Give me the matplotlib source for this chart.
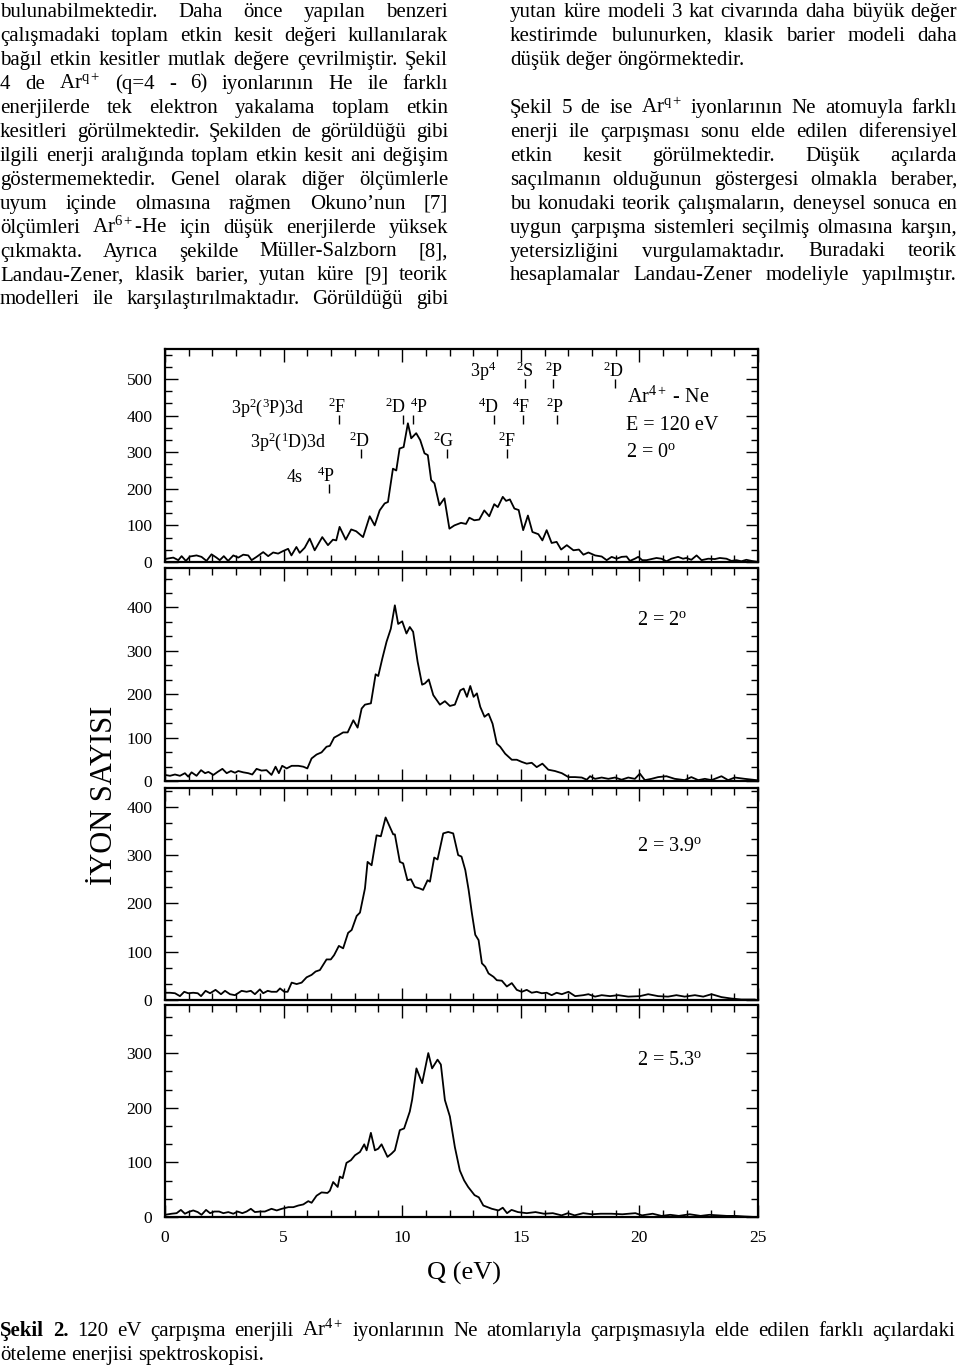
import matplotlib
matplotlib.use('Agg')
import matplotlib.pyplot as plt
from matplotlib.ticker import MultipleLocator

plt.rcParams['font.family'] = ['Liberation Serif', 'DejaVu Serif']
plt.rcParams['mathtext.fontset'] = 'custom'
plt.rcParams['mathtext.rm'] = 'Liberation Serif'
plt.rcParams['mathtext.it'] = 'Liberation Serif:italic'
plt.rcParams['mathtext.bf'] = 'Liberation Serif:bold'

W, H = 960, 1365

# --- spectra (Q in eV, ion counts) ---
q_0deg = [0.07, 0.35, 0.56, 0.70, 0.88, 1.05, 1.33, 1.54, 1.75, 1.96,
          2.17, 2.31, 2.48, 2.66, 2.88, 3.09, 3.30, 3.51, 3.65, 3.86,
          4.14, 4.35, 4.56, 4.77, 4.98, 5.19, 5.33, 5.54, 5.68, 5.89,
          6.10, 6.31, 6.63, 6.87, 7.08, 7.22, 7.36, 7.62, 7.85, 8.06,
          8.35, 8.63, 8.84, 9.05, 9.26, 9.40, 9.61, 9.75, 9.89, 10.06,
          10.24, 10.38, 10.59, 10.76, 10.94, 11.08, 11.22, 11.36, 11.57, 11.78,
          11.99, 12.20, 12.48, 12.69, 12.83, 13.04, 13.25, 13.46, 13.67, 13.88,
          14.03, 14.24, 14.38, 14.54, 14.73, 14.91, 15.10, 15.30, 15.49, 15.74,
          15.91, 16.09, 16.30, 16.51, 16.70, 16.94, 17.22, 17.45, 17.64, 17.85,
          18.13, 18.41, 18.62, 18.83, 19.04, 19.25, 19.46, 19.60, 19.81, 19.95,
          20.12, 20.30, 20.51, 20.72, 20.93, 21.14, 21.35, 21.63, 21.84, 21.98,
          22.19, 22.41, 22.62, 22.90, 23.18, 23.39, 23.67, 23.88, 24.09, 24.30,
          24.51, 24.72, 24.93]
n_0deg = [9, 12, 5, 16, 3, 15, 18, 14, 3, 21,
          12, 5, 16, 3, 18, 12, 20, 18, 5, 14,
          27, 16, 26, 23, 30, 36, 18, 41, 25, 39,
          64, 32, 68, 46, 61, 59, 96, 61, 89, 84,
          68, 125, 100, 141, 160, 164, 255, 250, 310, 314,
          379, 338, 352, 333, 297, 292, 224, 215, 155, 174,
          91, 100, 107, 104, 121, 114, 116, 141, 125, 158,
          150, 178, 167, 171, 146, 142, 87, 127, 82, 76,
          59, 87, 52, 55, 34, 46, 32, 34, 20, 26,
          18, 15, 5, 14, 9, 14, 15, 3, 9, 14,
          5, 5, 8, 11, 9, 2, 9, 14, 9, 11,
          6, 18, 5, 9, 8, 11, 9, 3, 5, 2,
          6, 3, 1]

q_2deg = [0.00, 0.21, 0.42, 0.63, 0.84, 0.98, 1.12, 1.33, 1.52, 1.69,
          1.83, 2.04, 2.22, 2.42, 2.60, 2.78, 2.95, 3.09, 3.30, 3.51,
          3.68, 3.86, 4.07, 4.28, 4.49, 4.66, 4.80, 4.94, 5.13, 5.34,
          5.62, 5.83, 6.00, 6.18, 6.39, 6.60, 6.81, 6.95, 7.13, 7.33,
          7.51, 7.70, 7.94, 8.12, 8.29, 8.43, 8.68, 8.88, 8.99, 9.16,
          9.34, 9.52, 9.69, 9.83, 10.00, 10.18, 10.32, 10.46, 10.65, 10.84,
          10.96, 11.12, 11.31, 11.59, 11.80, 12.01, 12.22, 12.45, 12.59, 12.73,
          12.87, 13.01, 13.15, 13.29, 13.47, 13.64, 13.81, 13.99, 14.13, 14.34,
          14.62, 14.83, 15.04, 15.25, 15.46, 15.67, 15.91, 16.16, 16.44, 16.73,
          17.01, 17.29, 17.57, 17.78, 17.92, 18.13, 18.41, 18.69, 18.97, 19.25,
          19.53, 19.81, 20.02, 20.23, 20.51, 20.79, 21.14, 21.49, 21.91, 22.19,
          22.48, 22.76, 23.04, 23.46, 23.74, 24.02, 24.44, 24.93]
n_2deg = [14, 12, 15, 12, 18, 10, 20, 12, 25, 18,
          21, 14, 21, 28, 18, 23, 19, 23, 20, 18,
          15, 28, 24, 25, 14, 33, 18, 35, 29, 35,
          35, 33, 29, 52, 61, 66, 79, 81, 100, 106,
          112, 112, 140, 123, 167, 176, 179, 246, 242, 282,
          321, 351, 405, 362, 368, 340, 355, 344, 275, 222,
          225, 234, 198, 176, 184, 173, 176, 209, 213, 194,
          219, 194, 202, 171, 148, 155, 132, 86, 79, 63,
          49, 49, 44, 40, 42, 32, 40, 26, 23, 18,
          9, 9, 8, 3, 11, 5, 8, 5, 8, 3,
          8, 5, 17, 2, 5, 9, 11, 5, 2, 9,
          2, 5, 2, 11, 2, 8, 5, 2]

q_39deg = [0.00, 0.21, 0.42, 0.63, 0.81, 0.98, 1.19, 1.38, 1.52, 1.71,
           1.90, 2.13, 2.36, 2.53, 2.74, 2.95, 3.23, 3.44, 3.62, 3.79,
           4.00, 4.14, 4.33, 4.49, 4.71, 4.85, 5.03, 5.17, 5.34, 5.55,
           5.76, 5.97, 6.18, 6.35, 6.53, 6.81, 6.99, 7.13, 7.33, 7.51,
           7.72, 7.87, 8.08, 8.22, 8.43, 8.54, 8.71, 8.92, 9.10, 9.30,
           9.41, 9.62, 9.69, 9.90, 10.04, 10.22, 10.37, 10.53, 10.74, 10.88,
           11.07, 11.17, 11.35, 11.49, 11.73, 11.94, 12.15, 12.36, 12.50, 12.66,
           12.80, 12.94, 13.08, 13.22, 13.36, 13.50, 13.64, 13.85, 13.99, 14.20,
           14.41, 14.62, 14.83, 15.04, 15.25, 15.46, 15.67, 15.88, 16.09, 16.30,
           16.51, 16.73, 17.01, 17.29, 17.64, 17.85, 18.13, 18.41, 18.76, 19.11,
           19.53, 20.02, 20.37, 20.79, 21.21, 21.56, 21.91, 22.34, 22.69, 23.04,
           23.46, 23.88, 24.30, 24.86]
n_39deg = [15, 15, 14, 8, 17, 14, 15, 14, 8, 19,
           14, 21, 12, 19, 12, 10, 19, 17, 19, 12,
           22, 14, 19, 17, 17, 24, 17, 17, 36, 33,
           36, 47, 52, 59, 62, 84, 84, 93, 112, 107,
           139, 145, 174, 181, 231, 286, 279, 341, 339, 378,
           366, 343, 343, 286, 283, 248, 250, 234, 231, 228,
           248, 245, 295, 291, 345, 348, 345, 300, 297, 269,
           228, 179, 135, 124, 76, 69, 55, 48, 41, 40,
           28, 35, 21, 17, 21, 15, 17, 14, 15, 10,
           15, 12, 17, 8, 10, 12, 7, 10, 8, 10,
           7, 8, 12, 8, 7, 10, 7, 10, 7, 12,
           6, 3, 1, 1]

q_53deg = [0.00, 0.28, 0.49, 0.67, 0.84, 0.98, 1.19, 1.38, 1.54, 1.73,
           1.90, 2.08, 2.28, 2.46, 2.67, 2.88, 3.06, 3.26, 3.44, 3.62,
           3.79, 4.00, 4.21, 4.49, 4.71, 4.92, 5.20, 5.41, 5.62, 5.83,
           6.04, 6.18, 6.39, 6.60, 6.85, 6.95, 7.09, 7.28, 7.37, 7.49,
           7.65, 7.84, 8.01, 8.22, 8.40, 8.50, 8.68, 8.85, 8.99, 9.13,
           9.38, 9.55, 9.69, 9.90, 10.08, 10.32, 10.42, 10.60, 10.84, 11.10,
           11.26, 11.49, 11.63, 11.80, 12.01, 12.22, 12.43, 12.61, 12.78, 13.05,
           13.23, 13.42, 13.78, 14.06, 14.24, 14.42, 14.61, 14.88, 15.25, 15.62,
           15.98, 16.35, 16.72, 16.99, 17.27, 17.63, 18.00, 18.37, 18.82, 19.28,
           19.83, 20.11, 20.56, 20.93, 21.30, 21.66, 22.12, 22.58, 22.95, 23.31,
           23.68, 24.05, 24.41, 24.87]
n_53deg = [4, 6, 7, 13, 6, 9, 12, 9, 4, 13,
           7, 10, 10, 7, 9, 6, 10, 7, 10, 15,
           9, 10, 10, 15, 12, 15, 18, 18, 21, 23,
           29, 26, 39, 45, 44, 48, 64, 55, 74, 71,
           99, 104, 113, 119, 133, 122, 154, 122, 125, 133,
           110, 116, 122, 159, 162, 193, 215, 272, 245, 300,
           272, 288, 279, 214, 184, 128, 85, 67, 55, 40,
           36, 21, 15, 12, 17, 7, 13, 9, 7, 9,
           6, 7, 3, 7, 3, 7, 5, 6, 6, 5,
           7, 3, 6, 2, 4, 2, 5, 2, 4, 3,
           2, 2, 1, 0]

panel_angles = ['0', '2', '3.9', '5.3']
panel_ymax = [582, 491, 439, 388]
panel_label_y = [300, 371, 317, 286]

# energy-level markers on the 0 deg panel
level_labels = [r'$^{2}$S', r'$^{2}$P', r'$^{2}$D',
                r'$^{2}$F', r'$^{2}$D', r'$^{4}$P', r'$^{4}$D', r'$^{4}$F', r'$^{2}$P',
                r'$^{2}$D', r'$^{2}$G', r'$^{2}$F',
                r'$^{4}$P']
level_label_x = [15.16, 16.42, 18.93, 7.25, 9.72, 10.73, 13.64, 15.03, 16.46,
                 8.20, 11.74, 14.42, 6.79]
level_tick_x = [15.18, 16.36, 18.97, 7.34, 10.03, 10.46, 13.87, 15.09, 16.53,
                8.26, 11.89, 14.42, 6.91]
level_row = [0, 0, 0, 1, 1, 1, 1, 1, 1, 2, 2, 2, 3]
config_labels = [r'3p$^{4}$', r'3p$^{2}$($^{3}$P)3d', r'3p$^{2}$($^{1}$D)3d', '4s']
config_x = [13.43, 4.34, 5.21, 5.46]
row_baseline = [505, 407, 314, 219]
row_tick_top = [500, 402, 309, 213]
row_tick_bottom = [475, 377, 284, 189]

# --- page text ---
left_col = [
    'bulunabilmektedir. Daha önce yapılan benzeri',
    'çalışmadaki toplam etkin kesit değeri kullanılarak',
    'bağıl etkin kesitler mutlak değere çevrilmiştir. Şekil',
    r'4 de Ar$^{\mathrm{q+}}$ (q=4 - 6) iyonlarının He ile farklı',
    'enerjilerde tek elektron yakalama toplam etkin',
    'kesitleri görülmektedir. Şekilden de görüldüğü gibi',
    'ilgili enerji aralığında toplam etkin kesit ani değişim',
    'göstermemektedir. Genel olarak diğer ölçümlerle',
    'uyum içinde olmasına rağmen Okuno’nun [7]',
    r'ölçümleri Ar$^{\mathrm{6+}}$-He için düşük enerjilerde yüksek',
    'çıkmakta. Ayrıca şekilde Müller-Salzborn [8],',
    'Landau-Zener, klasik barier, yutan küre [9] teorik',
    'modelleri ile karşılaştırılmaktadır. Görüldüğü gibi',
]
right_col = [
    'yutan küre modeli 3 kat civarında daha büyük değer',
    'kestirimde bulunurken, klasik barier modeli daha',
    'düşük değer öngörmektedir.',
    '',
    r'Şekil 5 de ise Ar$^{\mathrm{q+}}$ iyonlarının Ne atomuyla farklı',
    'enerji ile çarpışması sonu elde edilen diferensiyel',
    'etkin kesit görülmektedir. Düşük açılarda',
    'saçılmanın olduğunun göstergesi olmakla beraber,',
    'bu konudaki teorik çalışmaların, deneysel sonuca en',
    'uygun çarpışma sistemleri seçilmiş olmasına karşın,',
    'yetersizliğini vurgulamaktadır. Buradaki teorik',
    'hesaplamalar Landau-Zener modeliyle yapılmıştır.',
]
ragged_lines = ['düşük değer öngörmektedir.']
caption = [
    r'Şekil 2. 120 eV çarpışma enerjili Ar$^{\mathrm{4+}}$ iyonlarının Ne atomlarıyla '
    r'çarpışmasıyla elde edilen farklı açılardaki',
    'öteleme enerjisi spektroskopisi.',
]


def fx(px):
    return px / W


def fy(py):
    return 1 - py / H


fig = plt.figure(figsize=(W / 100, H / 100), dpi=100)
renderer = fig.canvas.get_renderer()

BODY = 15


def draw_line(text, x0, x1, baseline, justify=True, n_bold=0, size=BODY):
    words = text.split()
    items = []
    for i, w in enumerate(words):
        t = fig.text(fx(x0), fy(baseline), w, fontsize=size, ha='left',
                     va='baseline', fontweight='bold' if i < n_bold else 'normal')
        items.append(t)
    widths = [t.get_window_extent(renderer).width for t in items]
    if justify and len(items) > 1:
        gap = (x1 - x0 - sum(widths)) / (len(items) - 1)
    else:
        gap = 0.25 * size * 100 / 72
    x = x0
    for t, w in zip(items, widths):
        t.set_x(fx(x))
        x += w + gap


for i, line in enumerate(left_col):
    draw_line(line, 0, 448, 17 + 23.95 * i)
for i, line in enumerate(right_col):
    if line:
        draw_line(line, 510, 957, 17 + 23.95 * i, justify=line not in ragged_lines)
draw_line(caption[0], 0, 955, 1336, n_bold=2)
draw_line(caption[1], 0, 955, 1360, justify=False)

# --- spectra panels ---
spectra = [(q_0deg, n_0deg), (q_2deg, n_2deg), (q_39deg, n_39deg), (q_53deg, n_53deg)]
panel_px = [(349, 562), (568, 781), (788, 1000), (1005, 1217)]

axes = []
for k, ((q, n), (top, bottom)) in enumerate(zip(spectra, panel_px)):
    ax = fig.add_axes([fx(165), fy(bottom), fx(758) - fx(165), (bottom - top) / H])
    ax.plot(q, n, color='black', lw=1.3)
    ax.set_xlim(0, 25)
    ax.set_ylim(0, panel_ymax[k])
    ax.xaxis.set_major_locator(MultipleLocator(5))
    ax.xaxis.set_minor_locator(MultipleLocator(1))
    ax.yaxis.set_major_locator(MultipleLocator(100))
    ax.yaxis.set_minor_locator(MultipleLocator(100 / 3))
    ax.tick_params(which='both', direction='in', top=True, right=True, width=1.0)
    ax.tick_params(which='major', length=9, labelsize=12.5, pad=9)
    ax.tick_params(which='minor', length=5)
    if k < 3:
        ax.tick_params(labelbottom=False)
    for s in ax.spines.values():
        s.set_linewidth(1.6)
    ax.text(19.9 if k else 19.43, panel_label_y[k],
            r'2 = %s$^{\mathrm{o}}$' % panel_angles[k], fontsize=14.5, va='center')
    axes.append(ax)

ax0 = axes[0]
for lab, lx, tx, r in zip(level_labels, level_label_x, level_tick_x, level_row):
    ax0.text(lx, row_baseline[r], lab, fontsize=13, ha='center', va='baseline')
    ax0.vlines(tx, row_tick_bottom[r], row_tick_top[r], color='black', lw=1.0)
for lab, cx, r in zip(config_labels, config_x, range(4)):
    ax0.text(cx, row_baseline[r], lab, fontsize=13, ha='center', va='baseline')
ax0.text(19.48, 451, r'Ar$^{\mathrm{4+}}$ - Ne', fontsize=14.5, va='center')
ax0.text(19.43, 374, 'E = 120 eV', fontsize=14.5, va='center')

fig.text(fx(105), fy(795), 'İYON SAYISI', rotation=90, fontsize=22,
         ha='center', va='center')
fig.text(fx(464), fy(1273), 'Q (eV)', fontsize=19, ha='center', va='center')

fig.savefig('out.png', dpi=100)
